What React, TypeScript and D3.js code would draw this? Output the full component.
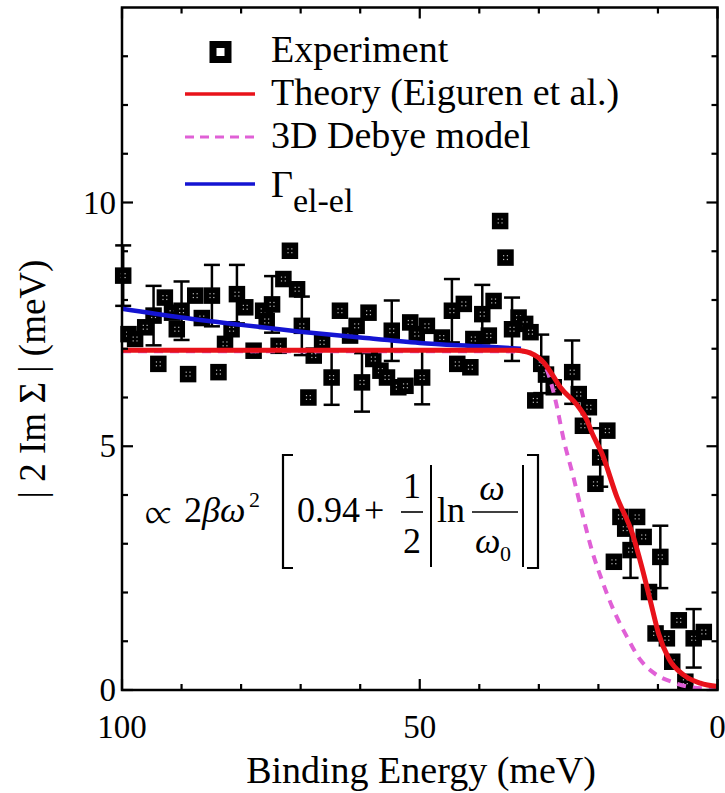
import React from "react";
import * as d3 from "d3";

// ---------- data ----------
const expE = [99.8, 98.9, 97.8, 96.1, 94.7, 93.9, 92.8, 91.6, 90.8, 90.0, 88.9, 87.7, 86.6, 84.9, 83.8, 82.7, 81.6, 80.7, 79.3, 77.9, 76.3, 75.7, 74.8, 73.7, 72.9, 71.8, 70.6, 69.8, 68.7, 67.8, 66.4, 64.8, 63.4, 61.7, 60.6, 59.7, 58.6, 57.8, 56.6, 55.5, 54.7, 53.6, 52.4, 51.6, 50.5, 49.6, 48.8, 46.3, 44.6, 43.7, 42.6, 41.5, 41.0, 39.5, 38.4, 37.6, 36.5, 35.6, 34.5, 33.4, 32.3, 31.4, 30.6, 29.6, 28.8, 27.5, 24.4, 23.3, 22.6, 21.6, 20.5, 19.7, 18.5, 17.4, 16.3, 15.5, 14.6, 13.5, 12.4, 11.5, 10.4, 9.6, 8.5, 7.6, 6.5, 5.4, 4.0, 2.3];
const expV = [8.50, 7.30, 7.20, 7.44, 7.68, 6.69, 8.05, 7.74, 7.40, 7.78, 6.48, 8.09, 7.63, 8.09, 6.52, 7.10, 7.40, 8.12, 7.85, 6.96, 7.78, 7.57, 7.91, 7.06, 8.43, 9.01, 8.22, 7.47, 6.00, 6.86, 7.13, 6.41, 7.78, 7.27, 7.47, 6.31, 7.74, 6.79, 6.55, 6.41, 7.37, 6.21, 6.24, 7.54, 7.30, 6.41, 7.47, 7.23, 7.78, 6.69, 7.92, 6.62, 7.20, 7.71, 7.27, 7.98, 9.62, 8.87, 7.40, 7.64, 7.51, 7.34, 5.94, 6.69, 6.47, 6.21, 6.52, 6.07, 5.42, 5.80, 4.23, 4.77, 5.32, 2.63, 3.55, 3.31, 2.87, 3.55, 3.14, 2.01, 1.16, 2.73, 1.06, 0.58, 1.43, 0.17, 1.06, 1.19];
const expErr = [0.62, 0, 0, 0, 0.61, 0, 0, 0, 0, 0.6, 0, 0, 0, 0.63, 0, 0, 0, 0.6, 0, 0, 0, 0, 0.58, 0, 0, 0, 0, 0.6, 0, 0, 0, 0.56, 0, 0, 0, 0.6, 0, 0, 0, 0, 0.62, 0, 0, 0, 0, 0.55, 0, 0, 0.65, 0, 0, 0, 0, 0.6, 0, 0, 0, 0, 0.65, 0, 0, 0, 0, 0.6, 0, 0, 0.65, 0, 0, 0, 0, 0.6, 0, 0, 0, 0, 0.57, 0, 0, 0, 0, 0.64, 0, 0, 0, 0, 0.6, 0];

const theoryE = [100, 60, 40, 34, 32.5, 31.4, 30.2, 29.2, 27.8, 26.4, 23.6, 21.9, 21.1, 19.4, 16.9, 14.3, 12.7, 11.3, 9.9, 8.2, 5.7, 2.9, 0];
const theoryV = [6.97, 6.97, 6.97, 6.97, 6.95, 6.91, 6.83, 6.72, 6.48, 6.21, 5.85, 5.53, 5.28, 4.85, 3.96, 3.21, 2.52, 1.84, 1.16, 0.65, 0.31, 0.14, 0.07];

const debyeE = [100, 40, 32, 31, 30.3, 29.4, 28.6, 27.2, 25.8, 24.2, 22.7, 21.1, 19.4, 17.7, 15.2, 12.9, 10.7, 7.3, 4.5, 0];
const debyeV = [6.95, 6.95, 6.94, 6.9, 6.84, 6.72, 6.55, 5.94, 5.12, 4.37, 3.62, 2.87, 2.25, 1.71, 1.09, 0.61, 0.35, 0.15, 0.06, 0.02];

const elelE = [100, 90, 80, 70, 60, 50, 40, 33];
const elelV = [7.82, 7.64, 7.49, 7.35, 7.23, 7.12, 7.05, 7.0];

const xMajorTicks = [100, 50, 0];
const xMinorTicks = [90, 80, 70, 60, 40, 30, 20, 10];
const yMajorTicks = [0, 5, 10];
const yMinorTicks = [1, 2, 3, 4, 6, 7, 8, 9, 11, 12, 13];

const legendLabels = ["Experiment", "Theory (Eiguren et al.)", "3D Debye model"];

const RED = "#e8121a";
const PINK = "#e060d6";
const BLUE = "#1414d2";

function T(props: any) {
  const { children, style, ...rest } = props;
  return (
    <text {...rest} style={{ fontFamily: '"Liberation Serif", "Times New Roman", monospace', ...(style || {}) }}>
      {children}
    </text>
  );
}

export default function App() {
  const W = 725, H = 793;
  const x = d3.scaleLinear().domain([100, 0]).range([122, 717.5]);
  const y = d3.scaleLinear().domain([0, 14]).range([690, 7.5]);
  const [x0, x1] = x.range();
  const [y0, y1] = y.range();

  const mkLine = (es: number[], vs: number[]) =>
    d3
      .line<number>()
      .x((_, i) => x(es[i]))
      .y((_, i) => y(vs[i]))
      .curve(d3.curveMonotoneX)(es.map((_, i) => i)) || "";

  const theoryPath = mkLine(theoryE, theoryV);
  const debyePath = mkLine(debyeE, debyeV);
  const elelPath = mkLine(elelE, elelV);

  const MAJ = 11, MIN = 6;
  const ticks: any[] = [];
  xMajorTicks.forEach((t) => {
    ticks.push(<line key={"xb" + t} x1={x(t)} x2={x(t)} y1={y0} y2={y0 - MAJ} />);
    ticks.push(<line key={"xt" + t} x1={x(t)} x2={x(t)} y1={y1} y2={y1 + MAJ} />);
  });
  xMinorTicks.forEach((t) => {
    ticks.push(<line key={"xbm" + t} x1={x(t)} x2={x(t)} y1={y0} y2={y0 - MIN} />);
    ticks.push(<line key={"xtm" + t} x1={x(t)} x2={x(t)} y1={y1} y2={y1 + MIN} />);
  });
  yMajorTicks.forEach((t) => {
    ticks.push(<line key={"yl" + t} x1={x0} x2={x0 + MAJ} y1={y(t)} y2={y(t)} />);
    ticks.push(<line key={"yr" + t} x1={x1} x2={x1 - MAJ} y1={y(t)} y2={y(t)} />);
  });
  yMinorTicks.forEach((t) => {
    ticks.push(<line key={"ylm" + t} x1={x0} x2={x0 + MIN} y1={y(t)} y2={y(t)} />);
    ticks.push(<line key={"yrm" + t} x1={x1} x2={x1 - MIN} y1={y(t)} y2={y(t)} />);
  });

  const S = 16.5;

  return (
    <svg width={W} height={H} style={{ position: "absolute", left: 0, top: 0, background: "#fff" }}>
      <rect x={0} y={0} width={W} height={H} fill="#fff" />

      {/* error bars */}
      <g stroke="#000" strokeWidth={2.5}>
        {expE.map((e, i) =>
          expErr[i] > 0 ? (
            <g key={"eb" + i}>
              <line x1={x(e)} x2={x(e)} y1={y(expV[i] - expErr[i])} y2={y(expV[i] + expErr[i])} />
              <line x1={x(e) - 8} x2={x(e) + 8} y1={y(expV[i] - expErr[i])} y2={y(expV[i] - expErr[i])} />
              <line x1={x(e) - 8} x2={x(e) + 8} y1={y(expV[i] + expErr[i])} y2={y(expV[i] + expErr[i])} />
            </g>
          ) : null
        )}
      </g>

      {/* markers */}
      <g>
        {expE.map((e, i) => (
          <g key={"m" + i} transform={`translate(${x(e)},${y(expV[i])})`}>
            <rect x={-S / 2} y={-S / 2} width={S} height={S} fill="#000" />
            <rect x={-2.5} y={-2.5} width={1.2} height={1.2} fill="#bbb" />
            <rect x={1.3} y={-2.5} width={1.2} height={1.2} fill="#bbb" />
            <rect x={-2.5} y={1.3} width={1.2} height={1.2} fill="#bbb" />
            <rect x={1.3} y={1.3} width={1.2} height={1.2} fill="#bbb" />
          </g>
        ))}
      </g>

      {/* curves */}
      <path d={elelPath} fill="none" stroke={BLUE} strokeWidth={4.5} />
      <path d={debyePath} fill="none" stroke={PINK} strokeWidth={4} strokeDasharray="9 7" />
      <path d={theoryPath} fill="none" stroke={RED} strokeWidth={5} />

      {/* frame + ticks */}
      <rect x={x0} y={y1} width={x1 - x0} height={y0 - y1} fill="none" stroke="#000" strokeWidth={2.5} />
      <g stroke="#000" strokeWidth={2.2}>{ticks}</g>

      {/* tick labels */}
      {xMajorTicks.map((t) => (
        <T key={"xl" + t} x={x(t)} y={738} textAnchor="middle" fontSize={33}>
          {t}
        </T>
      ))}
      {yMajorTicks.map((t) => (
        <T key={"yl" + t} x={116} y={y(t) + 11} textAnchor="end" fontSize={33}>
          {t}
        </T>
      ))}

      {/* axis labels */}
      <T x={421} y={783} fontSize={38} textAnchor="middle">
        Binding Energy (meV)
      </T>
      <T transform={`translate(45,379) rotate(-90)`} fontSize={37} textAnchor="middle">
        | 2 Im Σ | (meV)
      </T>

      {/* legend */}
      <rect x={209.5} y={41} width={22} height={22} fill="#000" />
      <rect x={216.5} y={48} width={8} height={8} fill="#fff" />
      <T x={271} y={62} fontSize={38}>{legendLabels[0]}</T>
      <line x1={185} x2={255} y1={94} y2={94} stroke={RED} strokeWidth={3.5} />
      <T x={271} y={105} fontSize={38}>{legendLabels[1]}</T>
      <line x1={185} x2={255} y1={137} y2={137} stroke={PINK} strokeWidth={3} strokeDasharray="9 6" />
      <T x={271} y={148} fontSize={38}>{legendLabels[2]}</T>
      <line x1={185} x2={255} y1={184} y2={184} stroke={BLUE} strokeWidth={3.5} />
      <T x={271} y={197} fontSize={38}>
        Γ<tspan fontSize={34} dy={15}>el-el</tspan>
      </T>

      {/* formula */}
      <T x={145} y={526} fontSize={42} style={{ fontFamily: '"FreeSerif", "Liberation Serif", serif' }}>∝</T>
      <T x={184} y={522} fontSize={36}>2</T>
      <T x={202} y={522} fontSize={36} fontStyle="italic">β</T>
      <T x={220} y={522} fontSize={36} fontStyle="italic">ω</T>
      <T x={249} y={507} fontSize={22}>2</T>
      <path d="M293,455 H283 V568 H293" fill="none" stroke="#000" strokeWidth={2.2} />
      <T x={297} y={522} fontSize={36}>0.94</T>
      <T x={364} y={522} fontSize={36}>+</T>
      <T x={412} y={498} fontSize={36} textAnchor="middle">1</T>
      <line x1={401} x2={423} y1={512} y2={512} stroke="#000" strokeWidth={1.6} />
      <T x={412} y={553} fontSize={36} textAnchor="middle">2</T>
      <line x1={431} x2={431} y1={465} y2={567} stroke="#000" strokeWidth={2} />
      <T x={437} y={522} fontSize={36}>ln</T>
      <T x={492} y={500} fontSize={36} textAnchor="middle" fontStyle="italic">ω</T>
      <line x1={472} x2={518} y1={512} y2={512} stroke="#000" strokeWidth={1.6} />
      <T x={475} y={553} fontSize={36} fontStyle="italic">ω</T>
      <T x={500} y={561} fontSize={22}>0</T>
      <line x1={523} x2={523} y1={465} y2={567} stroke="#000" strokeWidth={2} />
      <path d="M527,455 H538 V568 H527" fill="none" stroke="#000" strokeWidth={2.2} />
    </svg>
  );
}
